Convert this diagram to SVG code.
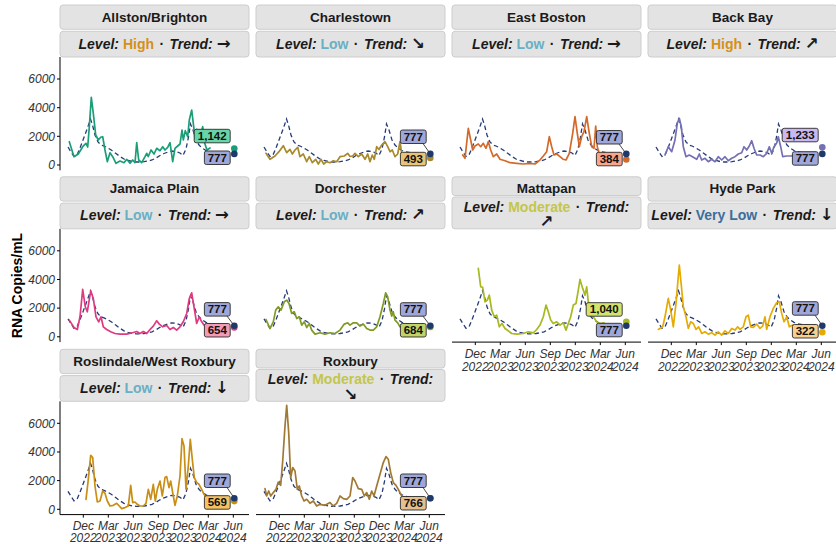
<svg xmlns="http://www.w3.org/2000/svg" xmlns:xlink="http://www.w3.org/1999/xlink" width="836" height="544" viewBox="0 0 836 544">
<style>
.strip{fill:#e3e3e3;stroke:#cdcdcd;stroke-width:1}
.st{font-family:"Liberation Sans","DejaVu Sans",sans-serif;font-weight:bold;font-size:13.5px;fill:#1a1a1a;text-anchor:middle}
.lv{font-size:14px}
.it{font-style:italic}
.ar{font-family:"DejaVu Sans",sans-serif;font-weight:bold;font-size:16.5px}
.ref{fill:none;stroke:#263b78;stroke-width:1.3;stroke-dasharray:4.5 3}
.ser{fill:none;stroke-width:1.7;stroke-linejoin:round;stroke-linecap:round}
.ax{stroke:#000;stroke-width:1;fill:none}
.yl{font-family:"Liberation Sans",sans-serif;font-style:italic;font-size:12px;fill:#333;text-anchor:end}
.xl{font-family:"Liberation Sans",sans-serif;font-style:italic;font-size:12px;fill:#333;text-anchor:middle}
.box{stroke:#2a2a2a;stroke-width:0.9}
.b777{fill:#9ea7d8}
.bt{font-family:"Liberation Sans",sans-serif;font-weight:bold;font-size:11.5px;fill:#111;text-anchor:middle}
.lead{stroke:#333;stroke-width:0.9}
.navy{fill:#1e3a6a}
.hi{fill:#d4901a}.lo{fill:#6aafc4}.mo{fill:#c3c64a}.vl{fill:#3c6e9c}
</style>
<defs>
<path id="refline" class="ref" d="M8,-18 L11,-13 L14,-8.5 L17,-10 L20,-17 L23,-25 L26,-33 L28.5,-40 L30.5,-46 L32.5,-40 L35,-30 L38,-23 L41,-20 L44,-19 L48,-17 L52,-14.5 L56,-11.5 L60,-8.5 L64,-6 L68,-4.5 L72,-3.5 L76,-3 L80,-3 L84,-3.3 L88,-4 L92,-5 L96,-7 L100,-9.5 L104,-11.5 L108,-13 L112,-14 L116,-13.5 L120,-12 L123,-9.5 L126,-16 L128.5,-28 L130.5,-41 L133,-35 L136,-25 L139,-20 L142,-17 L146,-14.5 L150,-13 L156,-12 L162,-11.5 L168,-11.2 L172,-11.1"/>
</defs>
<rect width="836" height="544" fill="#fff"/>
<text transform="translate(21.5,285.5) rotate(-90)" font-family="Liberation Sans, sans-serif" font-weight="bold" font-size="14" text-anchor="middle" fill="#000">RNA Copies/mL</text>

<!-- Allston/Brighton -->
<g id="panel-allston" transform="translate(60,165)">
<rect class="strip" x="0" y="-160" width="189" height="24.3" rx="3"/>
<rect class="strip" x="0" y="-133.7" width="189" height="25.7" rx="3"/>
<text class="st" x="94.5" y="-143.5">Allston/Brighton</text>
<text class="st lv" x="94.5" y="-116.5"><tspan class="it">Level:</tspan> <tspan class="hi">High</tspan> <tspan dx="1.5">·</tspan> <tspan class="it" dx="1.5">Trend:</tspan> <tspan class="ar">→</tspan></text>
<use xlink:href="#refline"/>
<polyline class="ser" stroke="#1b9e77" points="9.3,-23.3 14,-8.3 18.3,-11 22.7,-18.3 26,-21.7 27.7,-18 29.3,-38 31.3,-67.7 33.3,-51.7 35.7,-30 38.3,-25 40.7,-27.7 42.7,-28.3 45,-15 47.3,-3.3 50,-12.3 52.7,-8.3 56,-1.7 60,-4 64,-2.3 66.7,-5.7 70,-1.7 72.7,-5 75,-2.3 76.7,-22.3 78.7,-5 81.7,-2.3 85,-8.3 86.7,-11.7 88.3,-8.5 91,-15 94,-11 96.7,-16.7 100,-14.3 102.7,-18.3 105,-15 107.7,-17.7 110,-22.3 112.7,-3.3 115,-16.7 117.7,-19 120,-21 122,-35 123.3,-25 125.3,-34.3 127.7,-28.3 129.3,-45 131.7,-55 133.3,-41.7 135,-26.7 136.7,-35.7 138.7,-25 141,-31.7 142.7,-38.3 144.7,-21.7 147,-15 150,-17"/>
<line class="ax" x1="0" y1="-108" x2="0" y2="5.3"/>
<g class="ax"><line x1="-3" y1="0" x2="0" y2="0"/><line x1="-3" y1="-28.7" x2="0" y2="-28.7"/><line x1="-3" y1="-57.3" x2="0" y2="-57.3"/><line x1="-3" y1="-86" x2="0" y2="-86"/></g>
<text class="yl" x="-5" y="4.2">0</text><text class="yl" x="-5" y="-24.5">2000</text><text class="yl" x="-5" y="-53.1">4000</text><text class="yl" x="-5" y="-81.8">6000</text>
<rect class="box" x="134.2" y="-35.7" width="36" height="13.5" rx="2" fill="#66d6a6"/>
<text class="bt" x="152.2" y="-25">1,142</text>
<rect class="box b777" x="144.4" y="-14" width="25.8" height="13.5" rx="2"/>
<text class="bt" x="157.3" y="-3.3">777</text>
<circle cx="174.3" cy="-16.4" r="3.3" fill="#1b9e77"/>
<circle class="navy" cx="174.3" cy="-11.1" r="3.3"/>
</g>

<!-- Charlestown -->
<g id="panel-charlestown" transform="translate(256,165)">
<rect class="strip" x="0" y="-160" width="189" height="24.3" rx="3"/>
<rect class="strip" x="0" y="-133.7" width="189" height="25.7" rx="3"/>
<text class="st" x="94.5" y="-143.5">Charlestown</text>
<text class="st lv" x="94.5" y="-116.5"><tspan class="it">Level:</tspan> <tspan class="lo">Low</tspan> <tspan dx="1.5">·</tspan> <tspan class="it" dx="1.5">Trend:</tspan> <tspan class="ar">↘</tspan></text>
<use xlink:href="#refline"/>
<polyline class="ser" stroke="#a68a2b" points="10,-11.7 14,-5.7 19,-9 23,-13.3 27.3,-19.3 30.7,-12.3 34,-15.7 36.3,-11 39,-15 41.7,-17.7 44,-8.3 47.3,-11 50.7,-3.3 53.3,-8.3 56.3,-2.3 59.7,-5.7 62.3,-1 65,-5.7 67.7,-1 70.7,-3.3 74,-2.3 77.3,-4.3 80.7,-3.3 84,-8.3 88.3,-9 91.7,-11.7 94,-8.5 96.7,-9 99,-11.7 102.3,-8.3 105.7,-11 109,-5.7 111.7,-11 114,-3.3 116.3,-10 118.3,-5.7 120.7,-18.3 123,-15.5 125.7,-20 129,-23.3 131.7,-18.3 134,-13.3 136.3,-15 139,-8.3 141.7,-11 144,-23.3 145.7,-11.7 150,-8"/>
<rect class="box b777" x="144.4" y="-35" width="25.8" height="13.5" rx="2"/>
<text class="bt" x="157.3" y="-24.3">777</text>
<rect class="box" x="144.4" y="-12.7" width="25.8" height="13.5" rx="2" fill="#e9c476"/>
<text class="bt" x="157.3" y="-2">493</text>
<line class="lead" x1="167" y1="-21.5" x2="174.3" y2="-11.1"/>
<circle cx="174.3" cy="-7.1" r="3.3" fill="#a68a2b"/>
<circle class="navy" cx="174.3" cy="-11.1" r="3.3"/>
</g>

<!-- East Boston -->
<g id="panel-eastboston" transform="translate(452,165)">
<rect class="strip" x="0" y="-160" width="189" height="24.3" rx="3"/>
<rect class="strip" x="0" y="-133.7" width="189" height="25.7" rx="3"/>
<text class="st" x="94.5" y="-143.5">East Boston</text>
<text class="st lv" x="94.5" y="-116.5"><tspan class="it">Level:</tspan> <tspan class="lo">Low</tspan> <tspan dx="1.5">·</tspan> <tspan class="it" dx="1.5">Trend:</tspan> <tspan class="ar">→</tspan></text>
<use xlink:href="#refline"/>
<polyline class="ser" stroke="#d36a2a" points="10.7,-10 13,-6.7 16.3,-36.7 18.7,-25 20.7,-15 23,-19 26.3,-21 28.7,-18.3 31.3,-21.7 34,-16.7 36.3,-23.3 38.7,-15 41.3,-8.3 44.7,-11 48,-5.7 53,-4.3 58,-2.3 64.7,-1.7 71.3,-1 78,-1.7 83,-1 87.3,-4.3 91.3,-9 94.7,-13.3 97.3,-28.3 99.7,-18.3 102,-10 104.7,-11 108,-8.3 111.3,-5.7 114,-5 117.3,-11.7 120.7,-31.7 123,-48.3 125.3,-31.7 127.3,-18.3 129.7,-28.3 132,-33.3 134.7,-48.3 137.3,-31.7 139.7,-18.3 142,-16.7 143.7,-39 145.3,-18.3 147,-11.7 152,-6"/>
<rect class="box b777" x="144.4" y="-34.5" width="25.8" height="13.5" rx="2"/>
<text class="bt" x="157.3" y="-23.8">777</text>
<rect class="box" x="144.4" y="-12.7" width="25.8" height="13.5" rx="2" fill="#f7a58c"/>
<text class="bt" x="157.3" y="-2">384</text>
<line class="lead" x1="167" y1="-21" x2="174.3" y2="-11.1"/>
<circle cx="174.3" cy="-5.5" r="3.3" fill="#d36a2a"/>
<circle class="navy" cx="174.3" cy="-11.1" r="3.3"/>
</g>

<!-- Back Bay -->
<g id="panel-backbay" transform="translate(648,165)">
<rect class="strip" x="0" y="-160" width="189" height="24.3" rx="3"/>
<rect class="strip" x="0" y="-133.7" width="189" height="25.7" rx="3"/>
<text class="st" x="94.5" y="-143.5">Back Bay</text>
<text class="st lv" x="94.5" y="-116.5"><tspan class="it">Level:</tspan> <tspan class="hi">High</tspan> <tspan dx="1.5">·</tspan> <tspan class="it" dx="1.5">Trend:</tspan> <tspan class="ar">↗</tspan></text>
<use xlink:href="#refline"/>
<polyline class="ser" stroke="#7570b3" points="17,-10 20.3,-18.3 23.7,-13.3 27,-25 29.3,-41.7 31.3,-46.7 33.3,-38.3 35.3,-18.3 38,-8.3 41.3,-10 45.3,-7.7 48.7,-5.7 51.3,-11 53.7,-5 57,-6.7 60.3,-3.3 63.7,-5.7 67,-3.3 70.3,-8.3 73.7,-5 77,-8.3 80.3,-4.3 83.7,-6.7 87,-8.3 90.3,-11 93.7,-12.3 96,-18.3 98.7,-15 101.3,-19 103.7,-24.3 106,-16.7 108.7,-10 112,-10 115.3,-8.3 118.7,-11.7 121.3,-18.3 123.7,-11.7 126,-18.3 128.7,-22 130.3,-28.3 132.7,-18.3 134.7,-8.3 138.7,-9 143.7,-9 146,-10"/>
<rect class="box" x="134.2" y="-36.7" width="36" height="13.5" rx="2" fill="#c9b8f2"/>
<text class="bt" x="152.2" y="-26">1,233</text>
<rect class="box b777" x="144.4" y="-13.3" width="25.8" height="13.5" rx="2"/>
<text class="bt" x="157.3" y="-2.6">777</text>
<circle cx="174.3" cy="-17.7" r="3.3" fill="#7570b3"/>
<circle class="navy" cx="174.3" cy="-11.1" r="3.3"/>
</g>

<!-- Jamaica Plain -->
<g id="panel-jamaicaplain" transform="translate(60,336.8)">
<rect class="strip" x="0" y="-160" width="189" height="24.3" rx="3"/>
<rect class="strip" x="0" y="-133.7" width="189" height="25.7" rx="3"/>
<text class="st" x="94.5" y="-143.5">Jamaica Plain</text>
<text class="st lv" x="94.5" y="-116.5"><tspan class="it">Level:</tspan> <tspan class="lo">Low</tspan> <tspan dx="1.5">·</tspan> <tspan class="it" dx="1.5">Trend:</tspan> <tspan class="ar">→</tspan></text>
<use xlink:href="#refline"/>
<polyline class="ser" stroke="#e03a7f" points="9.3,-16.7 14,-9.3 17.3,-7.3 20,-20 22.7,-47.4 25.3,-30 27.3,-25 30.7,-46 33.3,-38.3 36,-20 38.7,-15 41,-20 43.3,-10 46.7,-7.3 50.7,-5 55,-3.3 60,-2.7 66.7,-2.7 73.3,-4.3 76.7,-5.3 80,-3.3 83.3,-5.3 86.7,-3.3 90,-7.3 93.3,-10.7 96.7,-16 99.3,-12.7 102.7,-10 106.7,-11.3 110,-7.3 113.3,-9.3 116.7,-6.7 120,-10 123.3,-15 126.7,-23.3 129.3,-38.3 131.7,-44 134,-30 136.7,-13.3 139.3,-20 141.7,-15 144,-11.7 150,-10"/>
<line class="ax" x1="0" y1="-108" x2="0" y2="5.3"/>
<g class="ax"><line x1="-3" y1="0" x2="0" y2="0"/><line x1="-3" y1="-28.7" x2="0" y2="-28.7"/><line x1="-3" y1="-57.3" x2="0" y2="-57.3"/><line x1="-3" y1="-86" x2="0" y2="-86"/></g>
<text class="yl" x="-5" y="4.2">0</text><text class="yl" x="-5" y="-24.5">2000</text><text class="yl" x="-5" y="-53.1">4000</text><text class="yl" x="-5" y="-81.8">6000</text>
<rect class="box b777" x="144.4" y="-34.2" width="25.8" height="13.5" rx="2"/>
<text class="bt" x="157.3" y="-23.5">777</text>
<rect class="box" x="144.4" y="-13.3" width="25.8" height="13.5" rx="2" fill="#f59ab5"/>
<text class="bt" x="157.3" y="-2.6">654</text>
<line class="lead" x1="167" y1="-20.7" x2="174.3" y2="-11.1"/>
<circle cx="174.3" cy="-9.4" r="3.3" fill="#e03a7f"/>
<circle class="navy" cx="174.3" cy="-11.1" r="3.3"/>
</g>

<!-- Dorchester -->
<g id="panel-dorchester" transform="translate(256,336.8)">
<rect class="strip" x="0" y="-160" width="189" height="24.3" rx="3"/>
<rect class="strip" x="0" y="-133.7" width="189" height="25.7" rx="3"/>
<text class="st" x="94.5" y="-143.5">Dorchester</text>
<text class="st lv" x="94.5" y="-116.5"><tspan class="it">Level:</tspan> <tspan class="lo">Low</tspan> <tspan dx="1.5">·</tspan> <tspan class="it" dx="1.5">Trend:</tspan> <tspan class="ar">↗</tspan></text>
<use xlink:href="#refline"/>
<polyline class="ser" stroke="#7f9b24" points="10,-17.3 14,-8.3 17.3,-15 19.7,-26.7 22.3,-30 25,-26.7 28.3,-35 30.7,-36.7 33,-33.3 35.7,-23.3 38.3,-25 40.7,-18.3 43.3,-20 45.7,-11.7 48.3,-15 50.7,-9.3 53.3,-13.3 55.7,-6.7 59,-2.7 64,-4 69,-2.7 74,-4 79,-3.3 84,-6.7 88.3,-12.7 91.7,-14 94,-11.7 97.3,-14 100.7,-14 104,-10.7 107.3,-12.7 110.7,-8.3 114,-6.7 117.3,-6.7 120.7,-10 124,-20 127.3,-33.3 129.7,-44 131.7,-40 134,-26.7 135.7,-20.7 137.3,-25 139,-16.7 141.7,-14 144,-10 150,-9.5"/>
<rect class="box b777" x="144.4" y="-34.1" width="25.8" height="13.5" rx="2"/>
<text class="bt" x="157.3" y="-23.4">777</text>
<rect class="box" x="144.4" y="-13.3" width="25.8" height="13.5" rx="2" fill="#c0d46a"/>
<text class="bt" x="157.3" y="-2.6">684</text>
<line class="lead" x1="167" y1="-20.6" x2="174.3" y2="-11.1"/>
<circle cx="174.3" cy="-9.8" r="3.3" fill="#7f9b24"/>
<circle class="navy" cx="174.3" cy="-11.1" r="3.3"/>
</g>

<!-- Mattapan -->
<g id="panel-mattapan" transform="translate(452,336.8)">
<rect class="strip" x="0" y="-160" width="189" height="18.7" rx="3"/>
<rect class="strip" x="0" y="-139.8" width="189" height="31.8" rx="3"/>
<text class="st" x="94.5" y="-143.5">Mattapan</text>
<text class="st lv" x="94.5" y="-125.3"><tspan class="it">Level:</tspan> <tspan class="mo">Moderate</tspan> <tspan dx="1.5">·</tspan> <tspan class="it" dx="1.5">Trend:</tspan></text>
<text class="st ar" x="94.5" y="-109.5">↗</text>
<use xlink:href="#refline"/>
<polyline class="ser" stroke="#a8b820" points="26.3,-68.4 28.7,-50 30.7,-49.4 33,-35 35.3,-36.7 37.3,-41.7 39.7,-26.7 42.3,-20 44.7,-21.7 47.3,-10 50,-13.3 53,-8.3 56.3,-6 59.7,-3.3 64.7,-2.7 71.3,-3.3 76.3,-5 81.3,-4 84.7,-7.3 88,-11.7 91.3,-20 94,-31.7 96.3,-25 98.7,-16.7 101.3,-13.3 104.7,-15 108,-11.7 111.3,-14 114,-6.7 116.3,-13.3 118.7,-20 121.3,-31.7 124,-33.3 126.3,-46.7 128,-57.4 130.7,-48.4 133,-41.7 134.7,-50 136.3,-35 138.7,-30 141.3,-20 144.7,-15 148,-13.3 152,-14"/>
<line class="ax" x1="0" y1="5.3" x2="189" y2="5.3"/>
<g class="ax"><line x1="23.3" y1="5.3" x2="23.3" y2="8.3"/><line x1="48.3" y1="5.3" x2="48.3" y2="8.3"/><line x1="73.3" y1="5.3" x2="73.3" y2="8.3"/><line x1="98.3" y1="5.3" x2="98.3" y2="8.3"/><line x1="123.3" y1="5.3" x2="123.3" y2="8.3"/><line x1="148.3" y1="5.3" x2="148.3" y2="8.3"/><line x1="173.3" y1="5.3" x2="173.3" y2="8.3"/></g>
<text class="xl" x="23.3" y="21.5">Dec</text><text class="xl" x="23.3" y="34.2">2022</text>
<text class="xl" x="48.3" y="21.5">Mar</text><text class="xl" x="48.3" y="34.2">2023</text>
<text class="xl" x="73.3" y="21.5">Jun</text><text class="xl" x="73.3" y="34.2">2023</text>
<text class="xl" x="98.3" y="21.5">Sep</text><text class="xl" x="98.3" y="34.2">2023</text>
<text class="xl" x="123.3" y="21.5">Dec</text><text class="xl" x="123.3" y="34.2">2023</text>
<text class="xl" x="148.3" y="21.5">Mar</text><text class="xl" x="148.3" y="34.2">2024</text>
<text class="xl" x="173.3" y="21.5">Jun</text><text class="xl" x="173.3" y="34.2">2024</text>
<rect class="box" x="134.2" y="-34.1" width="36" height="13.5" rx="2" fill="#d4e36c"/>
<text class="bt" x="152.2" y="-23.4">1,040</text>
<rect class="box b777" x="144.4" y="-13.5" width="25.8" height="13.5" rx="2"/>
<text class="bt" x="157.3" y="-2.8">777</text>
<circle cx="174.3" cy="-14.9" r="3.3" fill="#a8b820"/>
<circle class="navy" cx="174.3" cy="-11.1" r="3.3"/>
</g>

<!-- Hyde Park -->
<g id="panel-hydepark" transform="translate(648,336.8)">
<rect class="strip" x="0" y="-160" width="189" height="24.3" rx="3"/>
<rect class="strip" x="0" y="-133.7" width="189" height="25.7" rx="3"/>
<text class="st" x="94.5" y="-143.5">Hyde Park</text>
<text class="st lv" x="94.5" y="-116.5"><tspan class="it">Level:</tspan> <tspan class="vl">Very Low</tspan> <tspan dx="1.5">·</tspan> <tspan class="it" dx="1.5">Trend:</tspan> <tspan class="ar">↓</tspan></text>
<use xlink:href="#refline"/>
<polyline class="ser" stroke="#e6ab02" points="10.3,-7.4 14.7,-10 17,-20 20.3,-38.4 22.7,-26.7 25.3,-10 28,-33.3 30,-56.7 31.3,-71.7 33.3,-51.7 35.3,-30 38,-20 40.3,-8.4 42.7,-15 45.3,-13.3 48,-7.4 50.7,-10 53.7,-3.4 57,-5 60.3,-2.7 63.7,-4 67,-1.7 70.3,-5 73.7,-1.7 77,-6 80.3,-3.4 83.7,-8.4 87,-6.7 89.7,-10 92,-7.4 95.3,-10 98,-20 100.3,-21.7 102.7,-10 105.3,-9.4 108.7,-12.7 112,-8.4 114.7,-10.7 117,-20 118.7,-7.4 122,-20 125.3,-28.4 128.7,-34 131.3,-35 133.7,-23.4 136,-15 138.7,-20 141.3,-10 144.7,-11.7 147,-8.4"/>
<line class="ax" x1="0" y1="5.3" x2="189" y2="5.3"/>
<g class="ax"><line x1="23.3" y1="5.3" x2="23.3" y2="8.3"/><line x1="48.3" y1="5.3" x2="48.3" y2="8.3"/><line x1="73.3" y1="5.3" x2="73.3" y2="8.3"/><line x1="98.3" y1="5.3" x2="98.3" y2="8.3"/><line x1="123.3" y1="5.3" x2="123.3" y2="8.3"/><line x1="148.3" y1="5.3" x2="148.3" y2="8.3"/><line x1="173.3" y1="5.3" x2="173.3" y2="8.3"/></g>
<text class="xl" x="23.3" y="21.5">Dec</text><text class="xl" x="23.3" y="34.2">2022</text>
<text class="xl" x="48.3" y="21.5">Mar</text><text class="xl" x="48.3" y="34.2">2023</text>
<text class="xl" x="73.3" y="21.5">Jun</text><text class="xl" x="73.3" y="34.2">2023</text>
<text class="xl" x="98.3" y="21.5">Sep</text><text class="xl" x="98.3" y="34.2">2023</text>
<text class="xl" x="123.3" y="21.5">Dec</text><text class="xl" x="123.3" y="34.2">2023</text>
<text class="xl" x="148.3" y="21.5">Mar</text><text class="xl" x="148.3" y="34.2">2024</text>
<text class="xl" x="173.3" y="21.5">Jun</text><text class="xl" x="173.3" y="34.2">2024</text>
<rect class="box b777" x="144.4" y="-35.1" width="25.8" height="13.5" rx="2"/>
<text class="bt" x="157.3" y="-24.4">777</text>
<rect class="box" x="144.4" y="-12.3" width="25.8" height="13.5" rx="2" fill="#f9cf8e"/>
<text class="bt" x="157.3" y="-1.6">322</text>
<line class="lead" x1="167" y1="-21.6" x2="174.3" y2="-11.1"/>
<circle cx="174.3" cy="-4.6" r="3.3" fill="#e6ab02"/>
<circle class="navy" cx="174.3" cy="-11.1" r="3.3"/>
</g>

<!-- Roslindale/West Roxbury -->
<g id="panel-roslindale" transform="translate(60,509.3)">
<rect class="strip" x="0" y="-160" width="189" height="24.3" rx="3"/>
<rect class="strip" x="0" y="-133.7" width="189" height="25.7" rx="3"/>
<text class="st" x="94.5" y="-143.5">Roslindale/West Roxbury</text>
<text class="st lv" x="94.5" y="-116.5"><tspan class="it">Level:</tspan> <tspan class="lo">Low</tspan> <tspan dx="1.5">·</tspan> <tspan class="it" dx="1.5">Trend:</tspan> <tspan class="ar">↓</tspan></text>
<use xlink:href="#refline"/>
<polyline class="ser" stroke="#c98e14" points="26,-10 28.3,-30 30.7,-54 32.7,-51.7 35,-23.3 37.3,-7.3 40,-8.3 42.7,-18.3 45,-16 47.3,-8.3 50,-3.3 53.3,-4 56.7,-6 59.3,-3.3 61.7,-0.7 65,-1.7 68.3,-3.3 70.7,-24 72.7,-6.7 75,-7.3 77.3,-5 80,-3.3 83.3,-3.3 86,-6 88.3,-20 90.7,-10 93.3,-25 95.3,-8.3 97.3,-20 100,-28.3 102.3,-13.3 105,-31.7 106.7,-32.7 109,-21.7 110.7,-28.3 112.7,-16.7 115,-4 117.3,-13.3 120,-33.3 122,-70.7 124,-63.3 126,-20 128.3,-43.3 130.3,-70 132.3,-50 134.3,-31.7 136.7,-26.7 139,-25 141.7,-20 144,-15 148,-9"/>
<line class="ax" x1="0" y1="-108" x2="0" y2="5.3"/>
<g class="ax"><line x1="-3" y1="0" x2="0" y2="0"/><line x1="-3" y1="-28.7" x2="0" y2="-28.7"/><line x1="-3" y1="-57.3" x2="0" y2="-57.3"/><line x1="-3" y1="-86" x2="0" y2="-86"/></g>
<text class="yl" x="-5" y="4.2">0</text><text class="yl" x="-5" y="-24.5">2000</text><text class="yl" x="-5" y="-53.1">4000</text><text class="yl" x="-5" y="-81.8">6000</text>
<line class="ax" x1="0" y1="5.3" x2="189" y2="5.3"/>
<g class="ax"><line x1="23.3" y1="5.3" x2="23.3" y2="8.3"/><line x1="48.3" y1="5.3" x2="48.3" y2="8.3"/><line x1="73.3" y1="5.3" x2="73.3" y2="8.3"/><line x1="98.3" y1="5.3" x2="98.3" y2="8.3"/><line x1="123.3" y1="5.3" x2="123.3" y2="8.3"/><line x1="148.3" y1="5.3" x2="148.3" y2="8.3"/><line x1="173.3" y1="5.3" x2="173.3" y2="8.3"/></g>
<text class="xl" x="23.3" y="20.5">Dec</text><text class="xl" x="23.3" y="32.8">2022</text>
<text class="xl" x="48.3" y="20.5">Mar</text><text class="xl" x="48.3" y="32.8">2023</text>
<text class="xl" x="73.3" y="20.5">Jun</text><text class="xl" x="73.3" y="32.8">2023</text>
<text class="xl" x="98.3" y="20.5">Sep</text><text class="xl" x="98.3" y="32.8">2023</text>
<text class="xl" x="123.3" y="20.5">Dec</text><text class="xl" x="123.3" y="32.8">2023</text>
<text class="xl" x="148.3" y="20.5">Mar</text><text class="xl" x="148.3" y="32.8">2024</text>
<text class="xl" x="173.3" y="20.5">Jun</text><text class="xl" x="173.3" y="32.8">2024</text>
<rect class="box b777" x="144.4" y="-35.3" width="25.8" height="13.5" rx="2"/>
<text class="bt" x="157.3" y="-24.6">777</text>
<rect class="box" x="144.4" y="-13.6" width="25.8" height="13.5" rx="2" fill="#f5c262"/>
<text class="bt" x="157.3" y="-2.9">569</text>
<line class="lead" x1="167" y1="-21.8" x2="174.3" y2="-11.1"/>
<circle cx="174.3" cy="-8.2" r="3.3" fill="#c98e14"/>
<circle class="navy" cx="174.3" cy="-11.1" r="3.3"/>
</g>

<!-- Roxbury -->
<g id="panel-roxbury" transform="translate(256,509.3)">
<rect class="strip" x="0" y="-160" width="189" height="18.7" rx="3"/>
<rect class="strip" x="0" y="-139.8" width="189" height="31.8" rx="3"/>
<text class="st" x="94.5" y="-143.5">Roxbury</text>
<text class="st lv" x="94.5" y="-125.3"><tspan class="it">Level:</tspan> <tspan class="mo">Moderate</tspan> <tspan dx="1.5">·</tspan> <tspan class="it" dx="1.5">Trend:</tspan></text>
<text class="st ar" x="94.5" y="-109.5">↘</text>
<use xlink:href="#refline"/>
<polyline class="ser" stroke="#a07a35" points="9,-20.7 10.7,-13.3 12.7,-18.3 14.7,-13.3 17.3,-16.7 20,-20 22.3,-27.3 24.7,-24 26.7,-48.3 29,-83.3 30.7,-104 32.7,-76.7 34.7,-31.7 36.7,-41.7 39,-38.3 41.3,-20 43.3,-23.3 45.7,-13.3 48,-8.3 50.7,-10 54,-6 57.3,-8.3 60.7,-3.3 64,-5 69,-4 74,-6.7 77.3,-3.3 80.7,-6 84,-13.3 87.3,-10.7 90.7,-10 94,-13.3 96.7,-31.7 99,-28.3 102.3,-20.7 105.7,-20 108.3,-13.3 110.7,-16.7 113.3,-10 115.7,-18.3 118,-13.3 120.7,-23.3 124,-35 127.3,-46.7 130,-52.7 132.3,-50 134.7,-36.7 137.3,-26.7 140,-24 142.3,-20 145.7,-13.3 150,-11"/>
<line class="ax" x1="0" y1="5.3" x2="189" y2="5.3"/>
<g class="ax"><line x1="23.3" y1="5.3" x2="23.3" y2="8.3"/><line x1="48.3" y1="5.3" x2="48.3" y2="8.3"/><line x1="73.3" y1="5.3" x2="73.3" y2="8.3"/><line x1="98.3" y1="5.3" x2="98.3" y2="8.3"/><line x1="123.3" y1="5.3" x2="123.3" y2="8.3"/><line x1="148.3" y1="5.3" x2="148.3" y2="8.3"/><line x1="173.3" y1="5.3" x2="173.3" y2="8.3"/></g>
<text class="xl" x="23.3" y="20.5">Dec</text><text class="xl" x="23.3" y="32.8">2022</text>
<text class="xl" x="48.3" y="20.5">Mar</text><text class="xl" x="48.3" y="32.8">2023</text>
<text class="xl" x="73.3" y="20.5">Jun</text><text class="xl" x="73.3" y="32.8">2023</text>
<text class="xl" x="98.3" y="20.5">Sep</text><text class="xl" x="98.3" y="32.8">2023</text>
<text class="xl" x="123.3" y="20.5">Dec</text><text class="xl" x="123.3" y="32.8">2023</text>
<text class="xl" x="148.3" y="20.5">Mar</text><text class="xl" x="148.3" y="32.8">2024</text>
<text class="xl" x="173.3" y="20.5">Jun</text><text class="xl" x="173.3" y="32.8">2024</text>
<rect class="box b777" x="144.4" y="-35.3" width="25.8" height="13.5" rx="2"/>
<text class="bt" x="157.3" y="-24.6">777</text>
<rect class="box" x="144.4" y="-12.8" width="25.8" height="13.5" rx="2" fill="#e3c08e"/>
<text class="bt" x="157.3" y="-2.1">766</text>
<line class="lead" x1="167" y1="-21.8" x2="174.3" y2="-11.1"/>
<circle cx="174.3" cy="-11" r="3.3" fill="#a07a35"/>
<circle class="navy" cx="174.3" cy="-11.1" r="3.3"/>
</g>
</svg>
